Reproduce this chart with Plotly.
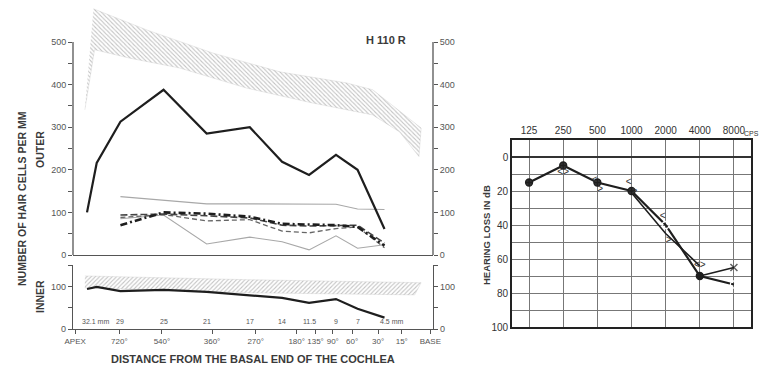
import math
import plotly.graph_objects as go

# ---------------- data: cochleogram (x = distance from basal end, mm) ----------------
outer_total_mm = [32.1, 31.2, 29, 25, 21, 17, 14, 11.5, 9, 7, 4.5]
outer_total = [100, 216, 313, 388, 285, 300, 219, 188, 235, 200, 61]

rows_mm = [29, 25, 21, 17, 14, 11.5, 9, 7, 4.5]
row_gray_top = [137, 129, 120, 120, 119, 119, 119, 108, 107]
row_gray_low = [85, 94, 26, 42, 31, 12, 45, 16, 24]
row_dashdot = [70, 100, 97, 90, 73, 72, 70, 66, 22]
row_dash = [94, 96, 92, 87, 70, 68, 69, 70, 28]
row_dash_light = [88, 95, 80, 83, 56, 52, 62, 66, 17]

# normal range of outer hair cells (hatched band)
outer_norm_hi_mm = [31.5, 26.5, 20.4, 14.2, 8.0, 5.6, 1.1]
outer_norm_hi = [578, 528, 474, 430, 404, 388, 298]
outer_norm_lo_mm = [32.3, 31.4, 28.1, 23.5, 17.3, 11.2, 5.6, 3.1, 1.3]
outer_norm_lo = [341, 482, 462, 439, 392, 357, 329, 289, 231]

inner_mm = [32.1, 31.2, 29, 25, 21, 17, 14, 11.5, 9, 7, 4.5]
inner = [95, 100, 90, 93, 88, 81, 74, 62, 71, 48, 27]
inner_norm_hi_mm = [32.3, 17, 1.1]
inner_norm_hi = [126, 117, 110]
inner_norm_lo_mm = [32.3, 17, 1.7]
inner_norm_lo = [98, 86, 81]

# axis labels
mm_label_pos = [32.1, 29, 25, 21, 17, 14, 11.5, 9, 7, 4.5]
mm_label_text = ["32.1 mm", "29", "25", "21", "17", "14", "11.5", "9", "7", "4.5 mm"]
turn_pos = [33.2, 29.1, 25.15, 20.5, 16.45, 12.65, 10.9, 9.3, 7.5, 5.1, 2.9, 0.25]
turn_text = ["APEX", "720°", "540°", "360°", "270°", "180°", "135°", "90°", "60°", "30°", "15°", "BASE"]

# ---------------- data: audiogram ----------------
freqs = [125, 250, 500, 1000, 2000, 4000, 8000]
freq_labels = ["125", "250", "500", "1000", "2000", "4000", "8000"]
air_right = [15, 5, 15, 20, 40, 70, 75]
air_second_f = [1000, 2000, 4000]
air_second = [21, 45, 64]
air_left_f = [4000, 8000]
air_left = [70, 65]
bone_f = [250, 500, 1000, 2000, 4000]
bone_left = [9, 14, 15, 35, 64]
bone_right = [9, 19, 20, 49, 64]

# ---------------- figure ----------------
W, H = 761, 368
FONT = "Liberation Sans, Arial, sans-serif"
TXT = "#3a3a3a"
INK = "#1e1e1e"


def px_x(p):
    return p / W


def px_y(p):
    return (H - p) / H


fig = go.Figure()

# hatched normal band (outer)
fig.add_trace(go.Scatter(
    x=outer_norm_hi_mm + outer_norm_lo_mm[::-1],
    y=outer_norm_hi + outer_norm_lo[::-1],
    fill="toself", mode="lines", line=dict(width=0.3, color="#bbb"),
    fillcolor="rgba(0,0,0,0)",
    fillpattern=dict(shape="\\", fgcolor="#888", bgcolor="white", size=3, solidity=0.35),
    xaxis="x", yaxis="y", hoverinfo="skip", showlegend=False))

# thin gray rows
fig.add_trace(go.Scatter(x=rows_mm, y=row_gray_top, mode="lines",
                         line=dict(color="#a8a8a8", width=1.1), xaxis="x", yaxis="y", showlegend=False))
fig.add_trace(go.Scatter(x=rows_mm, y=row_gray_low, mode="lines",
                         line=dict(color="#a8a8a8", width=1.1), xaxis="x", yaxis="y", showlegend=False))
fig.add_trace(go.Scatter(x=rows_mm, y=row_dash_light, mode="lines",
                         line=dict(color="#666", width=1.3, dash="5px,3px"), xaxis="x", yaxis="y", showlegend=False))
fig.add_trace(go.Scatter(x=rows_mm, y=row_dash, mode="lines",
                         line=dict(color="#444", width=1.6, dash="7px,3px"), xaxis="x", yaxis="y", showlegend=False))
fig.add_trace(go.Scatter(x=rows_mm, y=row_dashdot, mode="lines",
                         line=dict(color=INK, width=2.6, dash="7px,3px,2px,3px"), xaxis="x", yaxis="y", showlegend=False))
# total outer
fig.add_trace(go.Scatter(x=outer_total_mm, y=outer_total, mode="lines",
                         line=dict(color=INK, width=2.2), xaxis="x", yaxis="y", showlegend=False))
# dummy for right axes
fig.add_trace(go.Scatter(x=[None], y=[None], xaxis="x", yaxis="y2", showlegend=False, hoverinfo="skip"))

# inner panel
fig.add_trace(go.Scatter(
    x=inner_norm_hi_mm + inner_norm_lo_mm[::-1],
    y=inner_norm_hi + inner_norm_lo[::-1],
    fill="toself", mode="lines", line=dict(width=0.3, color="#bbb"),
    fillcolor="rgba(0,0,0,0)",
    fillpattern=dict(shape="/", fgcolor="#888", bgcolor="white", size=3, solidity=0.35),
    xaxis="x2", yaxis="y3", hoverinfo="skip", showlegend=False))
fig.add_trace(go.Scatter(x=inner_mm, y=inner, mode="lines",
                         line=dict(color=INK, width=2.2), xaxis="x2", yaxis="y3", showlegend=False))
fig.add_trace(go.Scatter(x=[None], y=[None], xaxis="x2", yaxis="y4", showlegend=False, hoverinfo="skip"))

# audiogram
fig.add_trace(go.Scatter(x=air_second_f, y=air_second, mode="lines",
                         line=dict(color=INK, width=1.6), xaxis="x3", yaxis="y5", showlegend=False))
fig.add_trace(go.Scatter(x=air_left_f, y=air_left, mode="lines+markers",
                         line=dict(color=INK, width=1.6),
                         marker=dict(symbol=["circle", "x-thin-open"], size=[1, 7],
                                     color=INK, line=dict(color=INK, width=1.5)),
                         xaxis="x3", yaxis="y5", showlegend=False))
fig.add_trace(go.Scatter(x=freqs, y=air_right, mode="lines+markers",
                         line=dict(color=INK, width=2.2),
                         marker=dict(symbol=["circle-cross", "circle-cross", "circle-cross", "circle-cross",
                                             "circle-open", "circle", "circle-open"],
                                     size=7, color=["#333", "#333", "#333", "#333", "white", INK, "white"],
                                     line=dict(color=INK, width=1.3)),
                         xaxis="x3", yaxis="y5", showlegend=False))
fig.add_trace(go.Scatter(x=bone_f, y=bone_left, mode="text", text=["<"] * len(bone_f),
                         textposition="middle left", textfont=dict(size=10, color="#333", family=FONT),
                         xaxis="x3", yaxis="y5", showlegend=False))
fig.add_trace(go.Scatter(x=bone_f, y=bone_right, mode="text", text=[">"] * len(bone_f),
                         textposition="middle right", textfont=dict(size=10, color="#333", family=FONT),
                         xaxis="x3", yaxis="y5", showlegend=False))

# ---------------- axes ----------------
X0, X1 = px_x(73), px_x(433)
tick_font = dict(family=FONT, size=9, color="#555")
upper_vals = list(range(0, 501, 50))
upper_text = [str(v) if v % 100 == 0 else "" for v in upper_vals]
lower_vals = [0, 50, 100, 150]
lower_text = ["0", "", "100", ""]

common_y = dict(ticks="outside", ticklen=4, tickcolor="#555", tickwidth=1, showgrid=False,
                zeroline=False, tickfont=tick_font, automargin=False)

fig.update_layout(
    width=W, height=H, margin=dict(l=0, r=0, t=0, b=0, autoexpand=False),
    paper_bgcolor="white", plot_bgcolor="rgba(0,0,0,0)", showlegend=False,
    xaxis=dict(domain=[X0, X1], range=[33.4, 0], anchor="y", showline=True, linecolor="#555",
               linewidth=1.3, showticklabels=False, ticks="", showgrid=False, zeroline=False,
               automargin=False),
    yaxis=dict(domain=[px_y(255), px_y(5)], range=[0, 587], anchor="x", showline=False,
               tickvals=upper_vals, ticktext=upper_text, **common_y),
    yaxis2=dict(overlaying="y", side="right", range=[0, 587], anchor="x", showline=False,
                tickvals=upper_vals, ticktext=upper_text, **common_y),
    xaxis2=dict(domain=[X0, X1], range=[33.4, 0], anchor="y3", showline=True, linecolor="#555",
                linewidth=1.3, ticks="outside", ticklen=4, tickcolor="#555", tickvals=turn_pos,
                ticktext=turn_text, tickangle=0, tickfont=dict(family=FONT, size=8, color="#555"),
                showgrid=False, zeroline=False, automargin=False),
    yaxis3=dict(domain=[px_y(329), px_y(265)], range=[0, 152], anchor="x2", showline=True,
                linecolor="#555", linewidth=1.2, tickvals=lower_vals, ticktext=lower_text, **common_y),
    yaxis4=dict(overlaying="y3", side="right", range=[0, 152], anchor="x2", showline=True,
                linecolor="#555", linewidth=1.2, tickvals=lower_vals, ticktext=lower_text, **common_y),
    xaxis3=dict(domain=[px_x(512), px_x(751)], type="log",
                range=[math.log10(125) - 0.1505, math.log10(8000) + 0.1505],
                anchor="y5", side="top", tickvals=freqs, ticktext=freq_labels, ticks="",
                showgrid=True, gridcolor="#777", gridwidth=1, showline=True, mirror=True,
                linecolor="#222", linewidth=1.6, zeroline=False, tickangle=0, automargin=False,
                tickfont=dict(family=FONT, size=10, color="#333")),
    yaxis5=dict(domain=[px_y(327), px_y(140)], range=[100, -10], anchor="x3",
                tickvals=list(range(0, 101, 10)),
                ticktext=[str(v) if v % 20 == 0 else "" for v in range(0, 101, 10)],
                ticks="", showgrid=True, gridcolor="#777", gridwidth=1, showline=True, mirror=True,
                linecolor="#222", linewidth=1.6, zeroline=True, zerolinecolor="#333",
                zerolinewidth=1.5, automargin=False, tickfont=dict(family=FONT, size=10, color="#333")),
)

# axis lines for the upper panel (0..500 only)
for xp in (X0, X1):
    fig.add_shape(type="line", xref="paper", yref="y", x0=xp, x1=xp, y0=0, y1=500,
                  line=dict(color="#555", width=1.3))

# ---------------- text ----------------
bold = dict(family=FONT, color=TXT)
anns = [
    dict(text="<b>NUMBER OF HAIR CELLS PER MM</b>", x=px_x(22), y=px_y(199), textangle=-90,
         font=dict(size=10.5, **bold)),
    dict(text="<b>OUTER</b>", x=px_x(40), y=px_y(150), textangle=-90, font=dict(size=10.5, **bold)),
    dict(text="<b>INNER</b>", x=px_x(40), y=px_y(297), textangle=-90, font=dict(size=10.5, **bold)),
    dict(text="<b>DISTANCE FROM THE BASAL END OF THE COCHLEA</b>", x=px_x(253), y=px_y(359),
         font=dict(size=11, **bold)),
    dict(text="<b>H 110 R</b>", x=px_x(386), y=px_y(40), font=dict(size=11, **bold)),
    dict(text="<b>HEARING LOSS IN dB</b>", x=px_x(486), y=px_y(235), textangle=-90,
         font=dict(size=9.5, **bold)),
    dict(text="CPS", x=px_x(761), y=px_y(133), xanchor="right", font=dict(size=7, family=FONT, color="#333")),
]
for a in anns:
    a.setdefault("xref", "paper")
    a.setdefault("yref", "paper")
    a.setdefault("showarrow", False)
    a.setdefault("xanchor", "center")
    a.setdefault("yanchor", "middle")
    fig.add_annotation(**a)

for pos, txt in zip(mm_label_pos, mm_label_text):
    is_mm = txt.endswith("mm")
    fig.add_annotation(x=pos, y=17, xref="x2", yref="y3", text=txt, showarrow=False,
                       xanchor="left" if is_mm else "center", xshift=-7 if is_mm else 0,
                       yanchor="middle", font=dict(size=7, family=FONT, color="#555"))

fig.write_html("out.html", config={"displayModeBar": False},
               post_script="document.body.style.margin='0px';")
